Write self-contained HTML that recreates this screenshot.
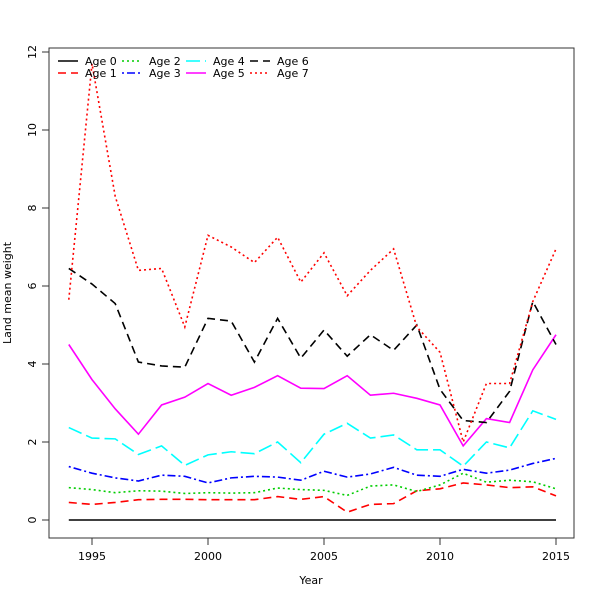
<!DOCTYPE html>
<html><head><meta charset="utf-8"><style>body{margin:0;background:#fff}svg text{font-family:"DejaVu Sans","Liberation Sans",sans-serif;font-size:11px}</style></head>
<body>
<svg id="chart" width="600" height="600" xmlns="http://www.w3.org/2000/svg">
<rect x="49" y="48" width="525" height="490" fill="none" stroke="#333" stroke-width="1"/>
<g id="axes"></g><g id="lines"></g><g id="legend"></g>
<text x="311" y="584" text-anchor="middle">Year</text>
<text x="11" y="293" text-anchor="middle" transform="rotate(-90 11 293)">Land mean weight</text>
</svg>
<script>
const years=[1994,1995,1996,1997,1998,1999,2000,2001,2002,2003,2004,2005,2006,2007,2008,2009,2010,2011,2012,2013,2014,2015];
const age0=[0,0,0,0,0,0,0,0,0,0,0,0,0,0,0,0,0,0,0,0,0,0];
const age1=[0.45,0.4,0.45,0.52,0.53,0.53,0.52,0.52,0.52,0.6,0.53,0.6,0.2,0.4,0.42,0.75,0.8,0.95,0.9,0.83,0.85,0.62];
const age2=[0.83,0.78,0.7,0.75,0.74,0.68,0.7,0.69,0.7,0.82,0.78,0.76,0.63,0.87,0.9,0.73,0.9,1.2,0.97,1.02,0.98,0.8];
const age3=[1.37,1.2,1.08,1.0,1.15,1.12,0.95,1.08,1.12,1.1,1.02,1.25,1.1,1.18,1.35,1.15,1.12,1.3,1.2,1.28,1.45,1.58];
const age4=[2.37,2.1,2.08,1.68,1.9,1.4,1.67,1.75,1.7,2.0,1.47,2.2,2.48,2.1,2.18,1.8,1.8,1.38,2.0,1.85,2.8,2.58];
const age5=[4.5,3.6,2.85,2.2,2.95,3.15,3.5,3.2,3.4,3.7,3.38,3.37,3.7,3.2,3.25,3.12,2.95,1.9,2.6,2.5,3.85,4.75];
const age6=[6.45,6.05,5.55,4.05,3.95,3.92,5.17,5.1,4.05,5.17,4.15,4.87,4.2,4.75,4.35,5.0,3.35,2.55,2.5,3.3,5.6,4.5];
const age7=[5.65,11.7,8.3,6.4,6.45,4.95,7.3,7.0,6.6,7.25,6.1,6.85,5.75,6.4,6.95,4.95,4.3,2.0,3.5,3.5,5.6,6.95];
const xTicks=[1995,2000,2005,2010,2015];
const yTicks=[0,2,4,6,8,10,12];
const series=[
 {name:'Age 0',data:age0,color:'#000',dash:''},
 {name:'Age 1',data:age1,color:'#ff0000',dash:'8,5'},
 {name:'Age 2',data:age2,color:'#00cd00',dash:'2,3'},
 {name:'Age 3',data:age3,color:'#0000ff',dash:'2,3,8,3'},
 {name:'Age 4',data:age4,color:'#00ffff',dash:'14,5'},
 {name:'Age 5',data:age5,color:'#ff00ff',dash:''},
 {name:'Age 6',data:age6,color:'#000',dash:'8,5'},
 {name:'Age 7',data:age7,color:'#ff0000',dash:'2,3'}];
const NS='http://www.w3.org/2000/svg';
const xS=v=>92+(v-1995)*23.2;
const yS=v=>520-v*39;
function mk(t,a,p){const e=document.createElementNS(NS,t);for(const k in a)e.setAttribute(k,a[k]);p.appendChild(e);return e;}
const axes=document.getElementById('axes');
xTicks.forEach(t=>{
 const l=mk('line',{x1:xS(t),x2:xS(t),y1:538,y2:545,stroke:'#333'},axes);
 
 
 const tx=mk('text',{x:xS(t),y:560,'text-anchor':'middle'},axes);tx.textContent=t;
 
 
});
yTicks.forEach(t=>{
 const l=mk('line',{x1:42,x2:49,y1:yS(t),y2:yS(t),stroke:'#333'},axes);
 
 
 const tx=mk('text',{x:36,y:yS(t),'text-anchor':'middle',transform:`rotate(-90 36 ${yS(t)})`},axes);tx.textContent=t;
 
 
});
const lines=document.getElementById('lines');
series.forEach(s=>{
 const p=mk('polyline',{points:s.data.map((v,i)=>xS(years[i])+','+yS(v)).join(' '),fill:'none',stroke:s.color,'stroke-width':1.6,'stroke-dasharray':s.dash},lines);
 
 
});
const lg=document.getElementById('legend');
series.forEach((s,i)=>{
 const col=Math.floor(i/2),row=i%2;
 const x=58+col*64,y=61+row*12;
 const l=mk('line',{x1:x,x2:x+20,y1:y,y2:y,stroke:s.color,'stroke-width':1.6,'stroke-dasharray':s.dash},lg);
 
 
 const t=mk('text',{x:x+27,y:y+4},lg);t.textContent=s.name;
 
 
});
</script>
</body></html>
